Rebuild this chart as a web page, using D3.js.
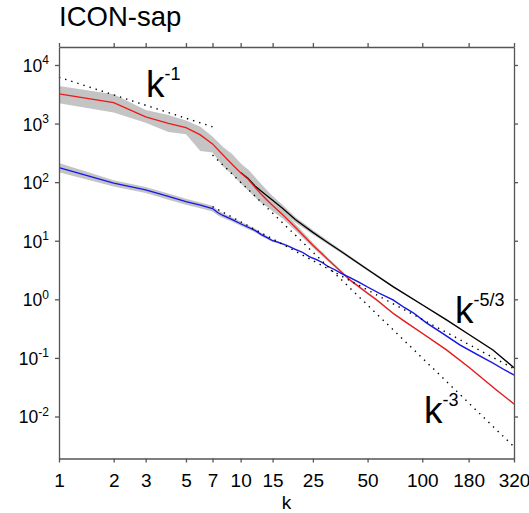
<!DOCTYPE html>
<html><head><meta charset="utf-8">
<script src="https://cdn.jsdelivr.net/npm/d3@7/dist/d3.min.js"></script>
<style>body{margin:0;background:#fff}text{font-family:"Liberation Sans",Arial,sans-serif;fill:#000}</style>
</head><body>
<svg id="c" width="529" height="513"></svg>
<script>
// ---- data ----
const xTicks = [1,2,3,5,7,10,15,25,50,100,180,320];
const yTickExps = [4,3,2,1,0,-1,-2];

const redK    = [1,2,3,4,5,6,7,8,9,10,11,12,13,14,15,17,20,25,30,40,50,56,69,80,100,136,180,256,320];
const redMean = [3200,2275,1300,1010,850,640,450,290,200,145,112,82,62,49,40,28,17,8.4,4.9,2.14,1.27,0.98,0.58,0.42,0.263,0.137,0.07,0.0284,0.0164];
const redLo   = [2220,1550,1030,720,660,340,320,185,135,95,72,55,44,38,32,24,15,7.6,4.55,2.03,1.21,0.94,0.56,0.405,0.254,0.133,0.068,0.0276,0.016];
const redHi   = [4380,3160,1700,1400,1130,880,600,400,300,210,160,115,82,62,48,33,19.5,9.2,5.3,2.25,1.33,1.02,0.6,0.435,0.272,0.141,0.072,0.0292,0.0168];

const blackK    = [10,11,12,13,15,17,20,25,30,37,50,69,100,136,180,245,320];
const blackMean = [146,116,86,70,49,36,23,13.9,9.45,6.1,3.22,1.65,0.807,0.445,0.254,0.137,0.068];
const blackLo   = [100,80,66,56,42,31.5,20.5,12.8,8.8,5.75,3.07,1.59,0.78,0.43,0.246,0.133,0.066];
const blackHi   = [205,165,122,92,58,41,25.5,15.2,10.2,6.5,3.38,1.72,0.835,0.46,0.262,0.141,0.07];

const blueK    = [1,2,3,4,5,6,7,7.5,8,9,10,11,12,13,14,15,16,18,20,22,24,26,28,30,33,36,40,45,50,58,69,80,90,105,130,161,200,246,280,320];
const blueMean = [177,96,74,57,46.4,40.5,35.5,30,27,23,19.5,17,15,12.7,11.3,10,9.5,8.3,7.1,6.3,5.3,4.8,4.3,3.7,3.2,2.75,2.35,1.95,1.62,1.27,0.98,0.72,0.58,0.40,0.26,0.167,0.115,0.081,0.064,0.051];
const blueLo   = [148,84,65,50,41,36,31.5,27,24.5,21,18,15.7,14,11.9,10.6,9.5,9.1,8.0,6.85,6.1,5.15,4.65,4.17,3.6,3.1,2.67,2.28,1.9,1.57,1.23,0.95,0.7,0.563,0.388,0.252,0.162,0.111,0.078,0.062,0.049];
const blueHi   = [212,108,83,64,52,45,39.5,33,29.5,25,21,18.3,16,13.5,12,10.5,9.9,8.6,7.35,6.5,5.45,4.95,4.43,3.8,3.3,2.83,2.42,2.0,1.67,1.31,1.01,0.74,0.597,0.412,0.268,0.172,0.119,0.084,0.066,0.053];

// reference power laws (endpoints)
const refM1K  = [1,7],   refM1V  = [6170,881];
const refM3K  = [7,320], refM3V  = [291,0.00304];
const refM53K = [7,320], refM53V = [38.2,0.0653];

// ---- drawing ----
const svg = d3.select("#c");
const x = d3.scaleLog().domain([1,320]).range([59,514]);
const y = d3.scaleLog().domain([Math.pow(10,-2.717), Math.pow(10,4.307)]).range([458.5,47]);

const band = (K,L,H) => d3.area().x((d,i)=>x(K[i])).y0((d,i)=>y(L[i])).y1((d,i)=>y(H[i]))(K);
const line = (K,V) => d3.line().x((d,i)=>x(K[i])).y((d,i)=>y(V[i]))(K);

const g = svg.append("g");
g.append("path").attr("d",band(blackK,blackLo,blackHi)).attr("fill","#c4c4c4");
g.append("path").attr("d",band(redK,redLo,redHi)).attr("fill","#c4c4c4");
g.append("path").attr("d",band(blueK,blueLo,blueHi)).attr("fill","#c4c4c4");

g.append("path").attr("d",line(blackK,blackMean)).attr("fill","none").attr("stroke","#000").attr("stroke-width",1.3);
g.append("path").attr("d",line(redK,redMean)).attr("fill","none").attr("stroke","#f01818").attr("stroke-width",1.3);
g.append("path").attr("d",line(blueK,blueMean)).attr("fill","none").attr("stroke","#1414f0").attr("stroke-width",1.3);

[[refM1K,refM1V],[refM3K,refM3V],[refM53K,refM53V]].forEach(([K,V])=>{
  g.append("path").attr("d",line(K,V)).attr("fill","none").attr("stroke","#000")
   .attr("stroke-width",1.4).attr("stroke-dasharray","1.4 5");
});

// axes
const axCol = "#555";
const ax = svg.append("g");
const ySupTicks = yTickExps.map(e=>Math.pow(10,e));
const axB = ax.append("g").attr("transform","translate(0,458.5)")
  .call(d3.axisBottom(x).tickValues(xTicks).tickSize(4).tickSizeOuter(0).tickFormat(d3.format("d")));
const axT = ax.append("g").attr("transform","translate(0,47)")
  .call(d3.axisTop(x).tickValues(xTicks).tickSize(4).tickSizeOuter(0).tickFormat(""));
const axL = ax.append("g").attr("transform","translate(59,0)")
  .call(d3.axisLeft(y).tickValues(ySupTicks).tickSize(4).tickSizeOuter(0).tickFormat(""));
const axR = ax.append("g").attr("transform","translate(514,0)")
  .call(d3.axisRight(y).tickValues(ySupTicks).tickSize(4).tickSizeOuter(0).tickFormat(""));
[axB,axT,axL,axR].forEach(a=>{
  a.selectAll("path,line").attr("stroke",axCol).attr("stroke-width",1.3);
});
axB.selectAll("text").attr("font-size",19).attr("y",10).attr("dy","0.95em")
  .attr("font-family","Liberation Sans, Arial, sans-serif").attr("fill","#000");

// y labels with superscripts
yTickExps.forEach(e=>{
  const t = svg.append("text").attr("x",49).attr("y",y(Math.pow(10,e))+7)
    .attr("text-anchor","end").attr("font-size",17.5);
  t.append("tspan").text("10");
  t.append("tspan").attr("dy",-7.5).attr("font-size",12).text(String(e));
});

// axis label & title
svg.append("text").attr("x",286.5).attr("y",509).attr("text-anchor","middle").attr("font-size",19).text("k");
svg.append("text").attr("x",59).attr("y",25.5).attr("font-size",27.5).text("ICON-sap");

// annotations
function ann(xp,yp,sup){
  const t = svg.append("text").attr("x",xp).attr("y",yp).attr("font-size",37);
  t.append("tspan").text("k");
  t.append("tspan").attr("dy",-17).attr("font-size",18).text(sup);
}
ann(146,96.5,"-1");
ann(455,323,"-5/3");
ann(424,422.5,"-3");
</script>
</body></html>
